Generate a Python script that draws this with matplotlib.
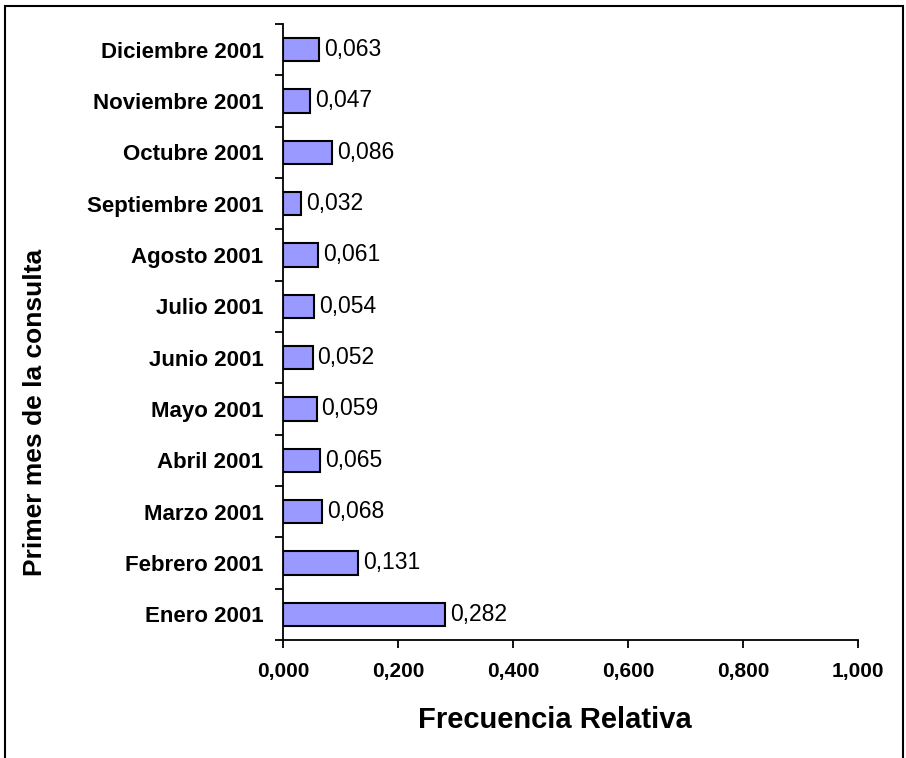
import matplotlib
matplotlib.use("Agg")
import matplotlib.pyplot as plt
from matplotlib.patches import Rectangle
import numpy as np

# data (bottom to top)
meses = ["Enero 2001", "Febrero 2001", "Marzo 2001", "Abril 2001", "Mayo 2001",
         "Junio 2001", "Julio 2001", "Agosto 2001", "Septiembre 2001",
         "Octubre 2001", "Noviembre 2001", "Diciembre 2001"]
frecuencia = [0.282, 0.131, 0.068, 0.065, 0.059, 0.052, 0.054, 0.061, 0.032,
              0.086, 0.047, 0.063]
xticks = [0.0, 0.2, 0.4, 0.6, 0.8, 1.0]

plt.rcParams['font.family'] = ['Liberation Sans', 'DejaVu Sans']

fig = plt.figure(figsize=(9.06, 7.58), dpi=100)
ax = fig.add_axes([0.3124, 0.1557, 0.6346, 0.8127])

y = np.arange(len(meses))
bars = ax.barh(y, frecuencia, height=0.45, color="#9999FF",
               edgecolor="black", linewidth=1.5)

def coma(v):
    return f"{v:.3f}".replace(".", ",")

for b, v in zip(bars, frecuencia):
    ax.text(b.get_width() + 0.008, b.get_y() + b.get_height() / 2, coma(v),
            va="center", ha="left", fontsize=16.5)

ax.set_xlim(0, 1.0)
ax.set_ylim(-0.5, len(meses) - 0.5)
ax.set_xticks(xticks)
ax.set_xticklabels([coma(t) for t in xticks], fontsize=15, fontweight="bold")
ax.set_yticks(y)
ax.set_yticklabels(meses, fontsize=16, fontweight="bold")
ax.set_yticks(np.arange(-0.5, len(meses), 1), minor=True)
ax.tick_params(axis="y", which="major", length=0, pad=14)
ax.tick_params(axis="y", which="minor", length=6, width=1.3, direction="out")
ax.tick_params(axis="x", length=6, width=1.3, direction="out", pad=10)

for s in ["top", "right"]:
    ax.spines[s].set_visible(False)
for s in ["left", "bottom"]:
    ax.spines[s].set_linewidth(1.3)

ax.set_xlabel("Frecuencia Relativa", fontsize=21, fontweight="bold", va="center")
ax.xaxis.set_label_coords(0.473, -0.13)
ax.set_ylabel("Primer mes de la consulta", fontsize=19, fontweight="bold", va="center")
ax.yaxis.set_label_coords(-0.431, 0.37)

# outer frame like the spreadsheet chart area
fig.patches.append(Rectangle((5 / 906, -0.05), 898 / 906, 1.05 - 6 / 758,
                             transform=fig.transFigure, fill=False,
                             edgecolor="black", linewidth=1.5, clip_on=False))

fig.savefig("out.png", dpi=100)
